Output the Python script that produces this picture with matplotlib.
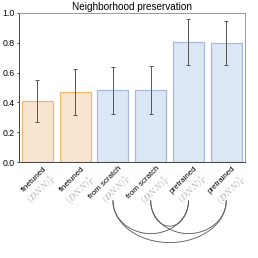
import numpy as np
import matplotlib.pyplot as plt
import matplotlib.transforms as mtransforms

plt.rcParams['font.family'] = ['Liberation Sans', 'DejaVu Sans']
plt.rcParams['mathtext.fontset'] = 'cm'

# data
names = ['finetuned', 'finetuned', 'from scratch', 'from scratch', 'pretrained', 'pretrained']
subs = [r'$(DNN)^{*}_{F}$', r'$(DNN)^{\dagger}_{F}$',
        r'$(DNN)^{*}_{F}$', r'$(DNN)^{\dagger}_{F}$',
        r'$(DNN)^{*}_{F}$', r'$(DNN)^{\dagger}_{F}$']
values = [0.41, 0.47, 0.48, 0.485, 0.805, 0.80]
errors = [0.14, 0.155, 0.157, 0.16, 0.155, 0.148]
groups = ['ft', 'ft', 'new', 'new', 'new', 'new']
# pairs of bars linked by arcs under the labels, with arc bottom (axes units below 0)
links = [(3, 4, 0.43), (2, 4, 0.48), (3, 5, 0.48), (2, 5, 0.54)]

fill = {'ft': '#f8e4d0', 'new': '#dce7f6'}
edge = {'ft': '#ebbd6a', 'new': '#a8bad8'}

fig = plt.figure(figsize=(2.58, 2.58), dpi=100)
ax = fig.add_axes([0.072, 0.372, 0.878, 0.578])

x = np.arange(len(values))
ax.bar(x, values, width=0.82,
       color=[fill[g] for g in groups], edgecolor=[edge[g] for g in groups],
       linewidth=0.9)
ax.errorbar(x, values, yerr=errors, fmt='none', ecolor='#555555',
            elinewidth=0.7, capsize=1.5, capthick=0.7)

ax.set_xlim(-0.5, 5.5)
ax.set_ylim(0, 1.0)
ax.set_yticks(np.arange(0, 1.01, 0.2))
ax.set_yticklabels(['%.1f' % v for v in np.arange(0, 1.01, 0.2)], fontsize=6.3)
ax.tick_params(axis='y', length=1.5, width=0.5, pad=1.5)
ax.set_xticks([])
for side in ['top', 'right']:
    ax.spines[side].set_color('#999999')
for side in ['left', 'bottom']:
    ax.spines[side].set_color('#444444')
for s in ax.spines.values():
    s.set_linewidth(0.7)
ax.set_title('Neighborhood preservation', fontsize=7.2, pad=2)

trans = ax.get_xaxis_transform()
off = mtransforms.offset_copy(trans, fig=fig, x=5.0, y=-5.0, units='points')
for i in x:
    ax.text(i + 0.15, -0.02, names[i], transform=trans, rotation=45,
            rotation_mode='anchor', ha='right', va='top', fontsize=5.7)
    ax.text(i + 0.15, -0.02, subs[i], transform=off, rotation=45,
            rotation_mode='anchor', ha='right', va='top', fontsize=6.5,
            color='#aaaaaa')

top = -0.26
t = np.linspace(np.pi, 2 * np.pi, 100)
for a, b, d in links:
    cx, rx = (a + b) / 2, (b - a) / 2
    ax.plot(cx + rx * np.cos(t), top + (d + top) * np.sin(t),
            transform=trans, clip_on=False, color='#555555', lw=0.6)

fig.savefig('out.png', dpi=100)
